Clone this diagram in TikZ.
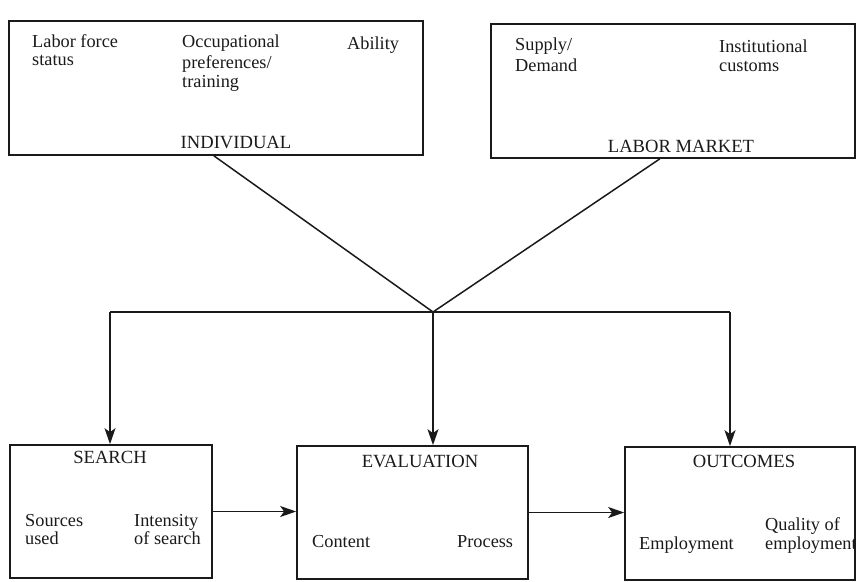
\documentclass[tikz,border=0pt]{standalone}
\usepackage{fontspec}
\setmainfont{Liberation Serif}
\usetikzlibrary{arrows.meta,calc}
\definecolor{ink}{HTML}{1A1A1A}
\begin{document}
\begin{tikzpicture}[x=1pt,y=-1pt,
  box/.style={draw=ink,line width=1.7pt,rectangle,inner sep=0pt},
  lbl/.style={inner sep=0pt,anchor=base west,align=left,text=ink,
    font=\fontsize{18.3}{19.5}\selectfont},
  head/.style={inner sep=0pt,anchor=base,text=ink,
    font=\fontsize{18.6}{20}\selectfont},
  link/.style={draw=ink,line width=1.5pt},
  flow/.style={link,-{Stealth[length=16pt,width=11pt,inset=4pt]}}]
\useasboundingbox (0,0) rectangle (856,581);

% upper boxes
\node[box,minimum width=414pt,minimum height=134pt] (ind) at (216,88) {};
\node[box,minimum width=364pt,minimum height=134pt] (mkt) at (673,91) {};
% lower boxes
\node[box,minimum width=202pt,minimum height=133pt] (sea) at (111,511.5) {};
\node[box,minimum width=231pt,minimum height=133pt] (eva) at (412.5,512.5) {};
\node[box,minimum width=230pt,minimum height=133pt] (out) at (740,513.5) {};

% texts of the individual box (base = last line)
\node[lbl] (t1) at (32,65) {Labor force\\[-1.5pt]status};
\node[lbl] (t2) at (182,87) {Occupational\\[1.5pt]preferences/\\[-0.5pt]training};
\node[lbl] (t3) at (347,49) {Ability};
\node[head] (t4) at (236,148) {INDIVIDUAL};
% texts of the labor market box
\node[lbl] (t5) at (515,71) {Supply/\\[1.5pt]Demand};
\node[lbl] (t6) at (719,71) {Institutional\\[-0.5pt]customs};
\node[head] (t7) at (681,152) {LABOR MARKET};
% texts of the search box
\node[head] (t8) at (110,463) {SEARCH};
\node[lbl] (t9) at (25,544) {Sources\\[-1.5pt]used};
\node[lbl] (t10) at (134,544) {Intensity\\[-1.5pt]of search};
% texts of the evaluation box
\node[head] (t11) at (420,467) {EVALUATION};
\node[lbl] (t12) at (312,547) {Content};
\node[lbl] (t13) at (457,547) {Process};
% texts of the outcomes box
\node[head] (t14) at (744,467) {OUTCOMES};
\node[lbl] (t15) at (639,549) {Employment};
\node[lbl] (t16) at (765,549) {Quality of\\[-0.5pt]employment};

% junction of the two influences
\coordinate (j) at (433,312);
\coordinate (jl) at (110,312);
\coordinate (jr) at (730,312);
\draw[link] ($(ind.south west)!0.495!(ind.south east)$) -- (j);
\draw[link] ($(mkt.south west)!0.464!(mkt.south east)$) -- (j);
\draw[link] (jl) -- (jr);
\draw[flow] (jl) -- (jl |- sea.north);
\draw[flow] (j) -- (j |- eva.north);
\draw[flow] (jr) -- (jr |- out.north);
% sequence along the bottom row
\draw[flow] (sea.east) -- (sea.east -| eva.west);
\draw[flow] (eva.east) -- (eva.east -| out.west);
\end{tikzpicture}
\end{document}
